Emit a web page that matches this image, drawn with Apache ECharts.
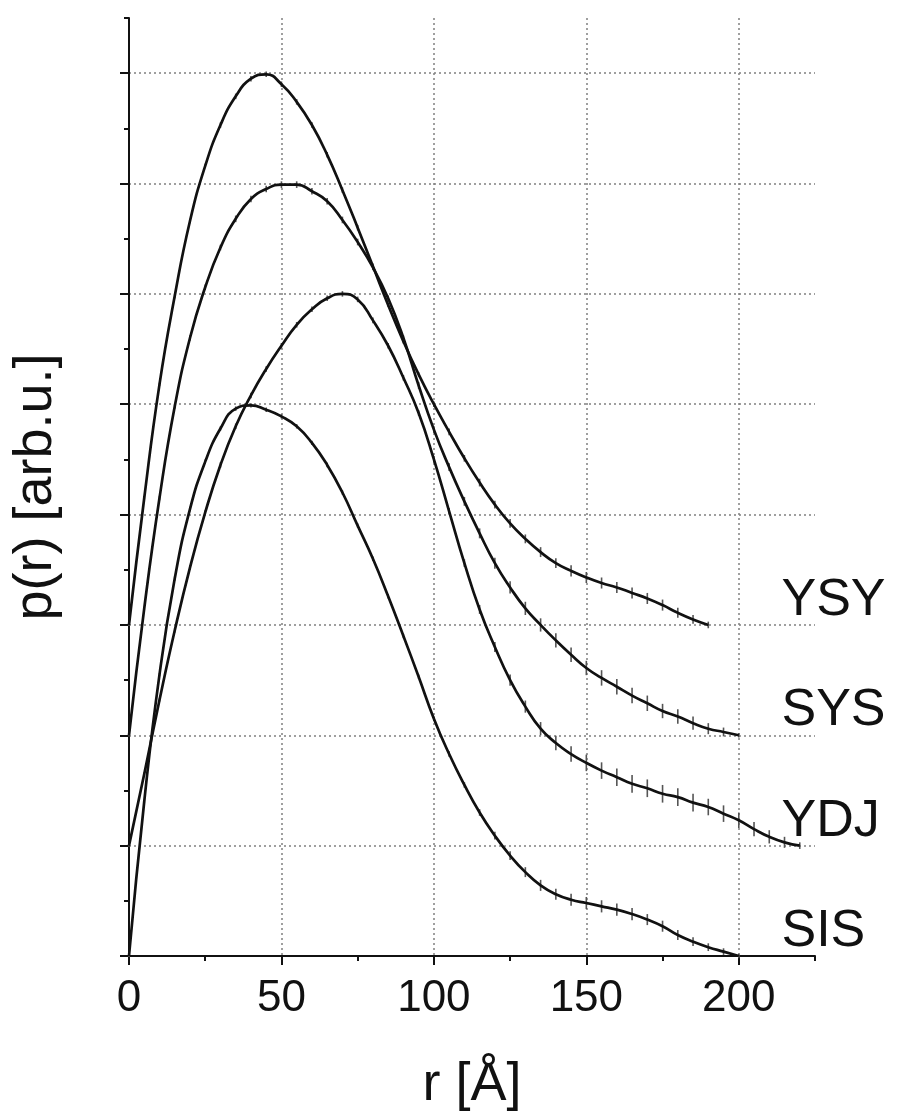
<!DOCTYPE html>
<html>
<head>
<meta charset="utf-8">
<script src="https://cdn.jsdelivr.net/npm/echarts@6/dist/echarts.min.js"></script>
<style>html,body{margin:0;padding:0;background:#fff}#c{width:903px;height:1117px}</style>
</head>
<body>
<div id="c"></div>
<script>
// r values (Å)
const r = [0,5,10,15,20,25,30,35,40,45,50,55,60,65,70,75,80,85,90,95,100,105,110,115,120,125,130,135,140,145,150,155,160,165,170,175,180,185,190,195,200,205,210,215,220];

// p(r) curves as displayed (vertically stacked)
const ysy = [3.0,4.15,5.18,5.98,6.66,7.16,7.53,7.79,7.95,7.99,7.9,7.74,7.53,7.26,6.94,6.6,6.25,5.9,5.57,5.27,5.0,4.75,4.51,4.29,4.09,3.92,3.78,3.66,3.56,3.49,3.43,3.38,3.34,3.29,3.24,3.18,3.11,3.05,3.0];
const sys = [2.0,3.15,4.15,4.98,5.6,6.06,6.42,6.68,6.86,6.95,6.99,6.99,6.93,6.84,6.67,6.47,6.24,5.96,5.6,5.17,4.77,4.43,4.12,3.83,3.56,3.34,3.15,3.0,2.86,2.73,2.61,2.52,2.44,2.36,2.29,2.22,2.17,2.11,2.06,2.03,2.0];
const ydj = [1.0,1.65,2.32,2.95,3.52,4.02,4.45,4.8,5.08,5.32,5.53,5.72,5.86,5.96,6.0,5.95,5.76,5.53,5.24,4.92,4.5,4.03,3.56,3.14,2.8,2.5,2.26,2.06,1.93,1.83,1.75,1.68,1.62,1.56,1.52,1.47,1.44,1.39,1.35,1.29,1.23,1.15,1.08,1.03,1.0];
const sis = [0.0,1.4,2.55,3.42,4.05,4.48,4.78,4.96,4.99,4.95,4.89,4.8,4.65,4.45,4.2,3.9,3.6,3.26,2.9,2.53,2.15,1.83,1.55,1.3,1.09,0.91,0.76,0.64,0.56,0.51,0.48,0.45,0.42,0.38,0.33,0.27,0.19,0.13,0.08,0.04,0.0];

// error half-widths
const ysyErr = [0.01,0.015,0.015,0.02,0.02,0.02,0.025,0.025,0.025,0.025,0.025,0.025,0.025,0.025,0.025,0.025,0.025,0.02,0.02,0.02,0.025,0.03,0.03,0.035,0.035,0.04,0.04,0.045,0.045,0.05,0.05,0.05,0.05,0.05,0.05,0.05,0.045,0.04,0.03];
const sysErr = [0.01,0.015,0.02,0.02,0.025,0.025,0.025,0.03,0.03,0.03,0.03,0.03,0.03,0.03,0.03,0.03,0.025,0.025,0.025,0.03,0.03,0.035,0.04,0.045,0.05,0.055,0.06,0.06,0.065,0.065,0.065,0.07,0.07,0.07,0.07,0.065,0.065,0.06,0.05,0.04,0.02];
const ydjErr = [0.01,0.015,0.015,0.02,0.02,0.02,0.025,0.025,0.025,0.025,0.025,0.025,0.025,0.025,0.025,0.025,0.025,0.025,0.025,0.025,0.03,0.03,0.035,0.04,0.045,0.05,0.055,0.06,0.065,0.07,0.075,0.075,0.08,0.08,0.08,0.08,0.08,0.08,0.075,0.075,0.07,0.065,0.06,0.05,0.03];
const sisErr = [0.01,0.015,0.015,0.02,0.02,0.02,0.02,0.02,0.02,0.02,0.02,0.02,0.02,0.02,0.02,0.02,0.02,0.02,0.02,0.02,0.02,0.025,0.025,0.03,0.035,0.04,0.045,0.05,0.05,0.055,0.055,0.055,0.055,0.055,0.05,0.05,0.045,0.04,0.035,0.03,0.02];

const curveNames = ['YSY','SYS','YDJ','SIS'];

// axis ticks
const xMajorTicks = [0,50,100,150,200];
const yMajorTicks = [0,1,2,3,4,5,6,7,8];

const FONT = '"Liberation Sans", Arial, Helvetica, sans-serif';
const INK = '#111';

const curves = [
  {name: curveNames[0], y: ysy, e: ysyErr},
  {name: curveNames[1], y: sys, e: sysErr},
  {name: curveNames[2], y: ydj, e: ydjErr},
  {name: curveNames[3], y: sis, e: sisErr}
];

const series = [];
curves.forEach(c => {
  series.push({
    type: 'custom',
    name: c.name + ' err',
    silent: true,
    z: 2,
    data: c.y.map((v, i) => [r[i], v, c.e[i] || 0]),
    encode: {x: 0, y: 1},
    renderItem: (params, api) => {
      const x = api.value(0), y = api.value(1), e = api.value(2);
      const p1 = api.coord([x, y - e]);
      const p2 = api.coord([x, y + e]);
      return {type: 'line', shape: {x1: p1[0], y1: p1[1], x2: p2[0], y2: p2[1]},
              style: {stroke: '#555', lineWidth: 1.6}};
    }
  });
  series.push({
    type: 'line',
    name: c.name,
    silent: true,
    z: 3,
    data: c.y.map((v, i) => [r[i], v]),
    smooth: 0.5,
    symbol: 'none',
    showSymbol: false,
    lineStyle: {color: INK, width: 2.7}
  });
});

// curve name labels, placed just above each curve's end level
series.push({
  type: 'scatter',
  silent: true,
  symbolSize: 0,
  z: 5,
  itemStyle: {opacity: 1},
  data: curves.map(c => ({name: c.name, value: [214, c.y[c.y.length - 1] + 0.22]})),
  label: {show: true, position: 'right', distance: 0, formatter: '{b}', opacity: 1,
          fontSize: 52, color: INK, fontFamily: FONT}
});

const gridLine = {show: true, lineStyle: {color: ['#808080', 'transparent'], type: [2, 3], width: 1.5}};

const option = {
  backgroundColor: '#fff',
  animation: false,
  grid: {left: 129, right: 88, top: 18, bottom: 160, containLabel: false},
  xAxis: [
    {
      type: 'value', min: 0, max: 225, interval: 25,
      axisLine: {show: true, onZero: false, lineStyle: {color: INK, width: 2}},
      axisTick: {show: true, length: 5, lineStyle: {color: INK, width: 2}},
      axisLabel: {formatter: v => (xMajorTicks.indexOf(v) >= 0 ? String(v) : ''),
                  fontSize: 44, color: INK, fontFamily: FONT, margin: 21},
      splitLine: gridLine,
      name: 'r [Å]', nameLocation: 'middle', nameGap: 102,
      nameTextStyle: {fontSize: 54, color: INK, fontFamily: FONT}
    },
    {
      type: 'value', min: 0, max: 225, interval: 50, position: 'bottom',
      axisLine: {show: false, onZero: false},
      axisTick: {show: true, length: 9, customValues: xMajorTicks, lineStyle: {color: INK, width: 2}},
      axisLabel: {show: false},
      splitLine: {show: false}
    }
  ],
  yAxis: [
    {
      type: 'value', min: 0, max: 8.5, interval: 0.5, position: 'left', offset: 0,
      axisLine: {show: true, onZero: false, lineStyle: {color: INK, width: 2}},
      axisTick: {show: true, length: 5, lineStyle: {color: INK, width: 2}},
      axisLabel: {show: false},
      splitLine: gridLine,
      name: 'p(r) [arb.u.]', nameLocation: 'middle', nameGap: 66,
      nameTextStyle: {fontSize: 54, color: INK, fontFamily: FONT}
    },
    {
      type: 'value', min: 0, max: 8.5, interval: 1, position: 'left', offset: 0,
      axisLine: {show: false, onZero: false},
      axisTick: {show: true, length: 9, customValues: yMajorTicks, lineStyle: {color: INK, width: 2}},
      axisLabel: {show: false},
      splitLine: {show: false}
    }
  ],
  series: series
};

const chart = echarts.init(document.getElementById('c'), null, {renderer: 'canvas'});
chart.setOption(option);
</script>
</body>
</html>
